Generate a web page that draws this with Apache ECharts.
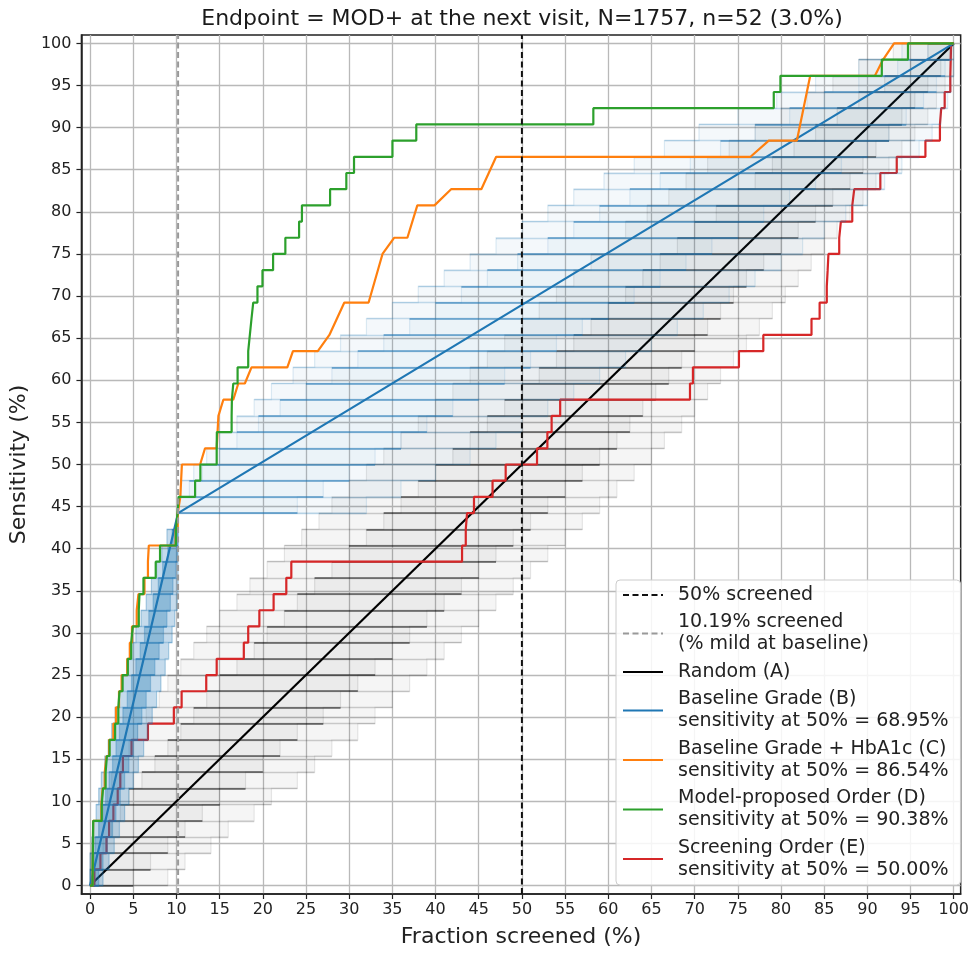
<!DOCTYPE html>
<html><head><meta charset="utf-8">
<script src="https://cdn.jsdelivr.net/npm/echarts@6/dist/echarts.min.js"></script>
<style>html,body{margin:0;padding:0;background:#fff}#c{width:972px;height:953px}</style>
</head><body><div id="c"></div>
<script>
// ---------------- data ----------------
const titleText = 'Endpoint = MOD+ at the next visit, N=1757, n=52 (3.0%)';
const N_POS = 52;                       // positives (each step = 1/52)
const tickValues = [0,5,10,15,20,25,30,35,40,45,50,55,60,65,70,75,80,85,90,95,100];
const halfScreened = 50;
const mildScreened = 10.19;
const mildPositives = 23;

const legendNames = [
  '50% screened',
  '10.19% screened\n(% mild at baseline)',
  'Random (A)',
  'Baseline Grade (B)\nsensitivity at 50% = 68.95%',
  'Baseline Grade + HbA1c (C)\nsensitivity at 50% = 86.54%',
  'Model-proposed Order (D)\nsensitivity at 50% = 90.38%',
  'Screening Order (E)\nsensitivity at 50% = 50.00%'
];

// Random (A): x in %, k in positives
const randomX = [0, 100];
const randomK = [0, 52];
// Baseline Grade (B)
const baselineX = [0, 10.19, 100];
const baselineK = [0, 23, 52];
// Baseline Grade + HbA1c (C): steps up to k=23, then vertices
const hba1cLowJumps = [0.3,0.32,0.34,0.36,1.3,1.45,1.7,1.9,2.2,2.7,3.0,3.35,3.65,4.3,4.6,4.85,5.4,5.6,6.3,6.7,6.8,9.9,10.15];
const hba1cUpperX = [10.19,10.45,10.63,12.74,13.31,14.66,14.86,15.43,16.58,17.16,17.92,18.69,22.84,23.49,26.37,27.71,29.44,32.25,33.86,35.2,36.74,37.89,39.88,41.8,45.3,47.02,76.47,78.58,81.84,83.38,90.87,91.82,93.09,100];
const hba1cUpperK = [23,24,26,26,27,27,29,30,30,31,31,32,32,33,33,34,36,36,39,40,40,42,42,43,43,45,45,46,46,50,50,51,52,52];
// Model-proposed Order (D): x (%) at which each positive is found
const modelJumps = [0.3,0.32,0.34,0.36,1.35,1.5,1.8,1.95,2.26,2.9,3.27,3.41,3.76,4.37,4.76,4.95,5.64,5.72,6.18,7.6,8.1,9.94,10.13,10.25,12.16,12.77,14.66,14.68,16.39,16.42,16.58,17.08,18.31,18.5,18.69,18.89,19.38,19.96,21.19,22.61,24.2,24.53,27.79,29.67,30.56,35.01,37.77,58.27,79.16,79.93,91.67,94.7];
// Screening Order (E)
const screeningJumps = [0.5,1.2,1.9,2.2,2.7,3.2,3.5,3.8,4.8,6.7,9.7,10.6,13.45,14.66,17.8,18.31,19.6,21.25,22.72,23.3,43.07,43.5,43.65,44.45,46.6,48.12,51.75,52.95,53.44,54.43,69.46,69.8,75.13,77.95,83.53,84.47,85.3,85.4,85.49,86.74,86.93,88.25,88.48,91.5,93.4,96.72,98.4,98.55,98.95,99.6,99.65,99.7];

// Random-ordering cloud (grey): x extent per level k = 0..52
const greyFaintLo = [0,0,0,0.5,1,1.5,2,2.5,3.5,4.5,5.5,6.5,8,9,10.5,12,13.5,15,17,18.5,20.5,22.5,24.5,26.5,28,30,32,34,36,38,40,42,44,46,48,50,52,54,56,58,60,62,64.5,67,69,71.5,74,77,80,83,86,89,93];
const greyFaintHi = [9,11,14,16,19,21,24,26,28,31,33,35,37,39,41,43,45,47,49,51,53,55,57,59,61,63,65,66.5,68.5,70,71.5,73,74.5,76,77.5,79,80.5,82,83.5,85,86.5,88,89.5,91,92.5,94,95.5,97,98,99,100,100,100];
const greyCoreLo = [0,0,0.5,1.5,2.5,3.5,4.5,6,7.5,9,10.5,12,13.5,15,17,19,20.5,22.5,24,26,28,30,32,34,36,38,40,42,44,46,48,50,52,54,56,58,60,62,64,66,68,70,72.5,75,77,79,81.5,84,86.5,89,92,95,97];
const greyCoreHi = [5,7,9,11,13,15,18,20,22,24,27,29,31,33,35,37,39,41,43,45,47,49,51,53,55,57,59,61,62.5,64,65.5,67,68.5,70,71.5,73,74.5,76,78,80,82,84,86,88,89.5,91,92.5,94,95.5,97,98.5,99.5,100];
// Tie-breaking cloud for Baseline Grade (blue): x extent per level k = 0..52
const blueFaintLo = [0,0,0,0.2,0.4,0.7,1,1.3,1.7,2.1,2.5,2.9,3.3,3.8,4.3,4.8,5.3,5.9,6.5,7.1,7.7,8.3,8.9,10.19,10.19,10.5,12,13.5,15,17,19,21,23.5,26,29,32,35,38,41,44,47,50,53,56,59.5,63,66.5,70.5,75,79.5,84,89,94];
const blueFaintHi = [1.5,2.2,2.8,3.4,4,4.5,5,5.6,6.2,6.7,7.2,7.7,8.2,8.7,9.1,9.5,9.8,10.1,10.19,10.19,10.19,10.19,10.19,32,36,40,44,47,50,53,56,59,62,65,68,71,74,77,80,82.5,85,87.5,90,92,94,96,97.5,98.5,99.3,99.7,100,100,100];
const blueCoreLo = [0,0,0.2,0.6,1,1.4,1.8,2.2,2.6,3,3.4,3.8,4.3,4.8,5.3,5.8,6.3,6.8,7.3,7.9,8.4,9,9.5,10.19,10.19,11.5,13,15,17,19.5,22,25,28,31,34,37,40,43,46,49.5,53,56,59,62.5,66,69.5,73,77,81,85,89,93.5,97];
const blueCoreHi = [1,1.5,2,2.6,3,3.5,4,4.5,5,5.5,6,6.5,7,7.5,8,8.5,8.9,9.3,9.6,9.9,10.1,10.19,10.19,24,27,30,33,36,39,42,45,48,51,54,57,60,63,66,69,72,75,78,81,84,87,90,92.5,94.5,96.5,98,99,99.7,100];

// ---------------- helpers ----------------
const pct = k => k * 100 / N_POS;
const FONT = 'DejaVu Sans';
const C = {blue:'#1f77b4', orange:'#ff7f0e', green:'#2ca02c', red:'#d62728'};

function vertices(xs, ks){ return xs.map((x,i)=>[x, pct(ks[i])]); }
function stairs(jumps){
  const pts = [[0,0]];
  jumps.forEach((x,i)=>{ pts.push([x,pct(i)]); pts.push([x,pct(i+1)]); });
  return pts;
}
function segs(lo, hi){ return lo.map((l,k)=>({coords:[[l,pct(k)],[hi[k],pct(k)]]})); }
function envelope(lo, hi){
  const pts = [[lo[0], pct(0)]];
  for (let k=1;k<lo.length;k++){ pts.push([lo[k],pct(k-1)]); pts.push([lo[k],pct(k)]); }
  const n = hi.length-1;
  pts.push([hi[n], pct(n)]);
  for (let k=n-1;k>=0;k--){ pts.push([hi[k],pct(k+1)]); pts.push([hi[k],pct(k)]); }
  return pts;
}
function polySeries(pts, fill, stroke, z){
  return {type:'custom', silent:true, z:z, clip:true, data:[0],
    renderItem:(params, api)=>({type:'polygon', shape:{points:pts.map(p=>api.coord(p))},
      style:{fill:fill, stroke:stroke, lineWidth:1.2}})};
}
function segSeries(data, color, width, z){
  return {type:'lines', coordinateSystem:'cartesian2d', silent:true, z:z, polyline:false,
    data:data, lineStyle:{color:color, width:width, opacity:1}, effect:{show:false}};
}

const modelPts = stairs(modelJumps); modelPts.push([100,100]);
const screeningPts = stairs(screeningJumps); screeningPts.push([100,100]);
const hba1cPts = stairs(hba1cLowJumps).concat(vertices(hba1cUpperX, hba1cUpperK));

function lineSeries(name, data, color, width, z, dash){
  return {type:'line', name:name, data:data, showSymbol:false, symbol:'none', z:z,
    lineStyle:{color:color, width:width, type: dash || 'solid'}, itemStyle:{color:color},
    emphasis:{disabled:true}, animation:false};
}

const axisText = {fontFamily:FONT, fontSize:16, color:'#222'};

const option = {
  animation:false,
  backgroundColor:'#fff',
  title:{text:titleText, left:517, top:3, textAlign:'center',
    textStyle:{fontFamily:FONT, fontSize:22, fontWeight:'normal', color:'#1a1a1a'}},
  grid:{left:79, right:9, top:35, bottom:56, show:true, borderColor:'#222', borderWidth:1.5, backgroundColor:'transparent'},
  xAxis:{type:'value', min:-1, max:100.8,
    axisLine:{show:true, onZero:false, lineStyle:{color:'#222', width:1.5}},
    axisTick:{show:true, customValues:tickValues, length:5, lineStyle:{color:'#222', width:1.2}},
    axisLabel:Object.assign({customValues:tickValues, margin:8}, axisText),
    splitLine:{show:true, lineStyle:{color:'#b9b9b9', width:1.3}},
    name:'Fraction screened (%)', nameLocation:'middle', nameGap:32,
    nameTextStyle:{fontFamily:FONT, fontSize:22, color:'#222'}},
  yAxis:{type:'value', min:-1, max:101,
    axisLine:{show:true, onZero:false, lineStyle:{color:'#222', width:1.5}},
    axisTick:{show:true, customValues:tickValues, length:5, lineStyle:{color:'#222', width:1.2}},
    axisLabel:Object.assign({customValues:tickValues, margin:10}, axisText),
    splitLine:{show:true, lineStyle:{color:'#b9b9b9', width:1.3}},
    name:'Sensitivity (%)', nameLocation:'middle', nameGap:46,
    nameTextStyle:{fontFamily:FONT, fontSize:22, color:'#222'}},
  legend:{show:true, orient:'vertical', left:616, top:580, data:legendNames,
    itemWidth:40, itemHeight:14, itemGap:5.5,
    itemStyle:{opacity:0},
    backgroundColor:'rgba(255,255,255,0.85)', borderColor:'#cccccc', borderWidth:1, borderRadius:4,
    padding:[4,12,4,6],
    textStyle:{fontFamily:FONT, fontSize:19, color:'#222', lineHeight:22, padding:[0,0,0,10]},
    selectedMode:false},
  series:[
    polySeries(envelope(greyFaintLo, greyFaintHi), 'rgba(0,0,0,0.04)', 'rgba(0,0,0,0.09)', 1),
    polySeries(envelope(greyCoreLo, greyCoreHi), 'rgba(0,0,0,0.04)', 'rgba(0,0,0,0.10)', 1),
    segSeries(segs(greyFaintLo, greyFaintHi), 'rgba(0,0,0,0.18)', 1.4, 2),
    segSeries(segs(greyCoreLo, greyCoreHi), 'rgba(0,0,0,0.58)', 1.5, 2),
    lineSeries(legendNames[2], vertices(randomX, randomK), '#000', 2.2, 3),
    lineSeries(legendNames[6], screeningPts, C.red, 2.2, 4),
    polySeries(envelope(blueFaintLo, blueFaintHi), 'rgba(31,119,180,0.05)', 'rgba(31,119,180,0.14)', 5),
    polySeries(envelope(blueCoreLo, blueCoreHi), 'rgba(31,119,180,0.04)', 'rgba(31,119,180,0.12)', 5),
    polySeries(envelope(blueFaintLo.slice(0, mildPositives), blueFaintHi.slice(0, mildPositives)), 'rgba(31,119,180,0.22)', 'rgba(31,119,180,0.2)', 5),
    polySeries(envelope(blueCoreLo.slice(0, mildPositives), blueCoreHi.slice(0, mildPositives)), 'rgba(31,119,180,0.3)', 'rgba(31,119,180,0.2)', 5),
    segSeries(segs(blueFaintLo, blueFaintHi), 'rgba(31,119,180,0.25)', 1.4, 5),
    segSeries(segs(blueCoreLo, blueCoreHi), 'rgba(31,119,180,0.65)', 1.5, 5),
    lineSeries(legendNames[3], vertices(baselineX, baselineK), C.blue, 2.2, 6),
    lineSeries(legendNames[4], hba1cPts, C.orange, 2.2, 7),
    lineSeries(legendNames[5], modelPts, C.green, 2.2, 8),
    lineSeries(legendNames[0], [[halfScreened,-1],[halfScreened,101]], '#111', 2, 9, [6,3.5]),
    lineSeries(legendNames[1], [[mildScreened,-1],[mildScreened,101]], '#999', 2, 9, [6,3.5])
  ]
};
const chart = echarts.init(document.getElementById('c'));
chart.setOption(option);
</script>
</body></html>
